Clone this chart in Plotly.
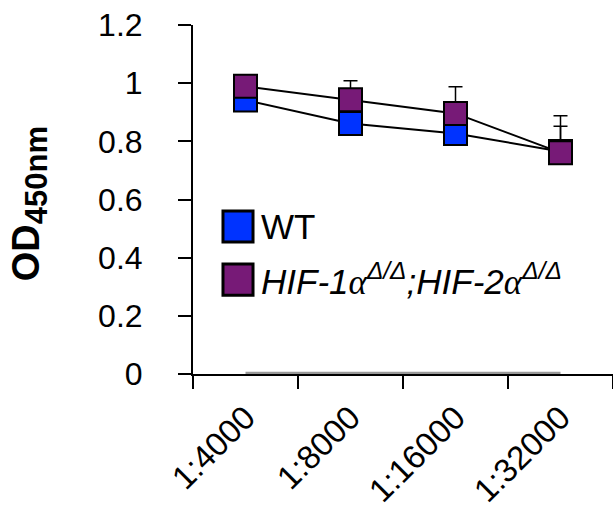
import plotly.graph_objects as go

categories = ["1:4000", "1:8000", "1:16000", "1:32000"]
wt_values = [0.942, 0.861, 0.827, 0.765]
wt_errors = [0.03, 0.04, 0.04, 0.087]
hif_values = [0.989, 0.943, 0.896, 0.761]
hif_errors = [0.03, 0.065, 0.092, 0.127]
blank_values = [0, 0, 0, 0]
y_ticks = [0, 0.2, 0.4, 0.6, 0.8, 1.0, 1.2]

BLUE = "#0033ff"
PURPLE = "#771a77"
SANS = "Liberation Sans, Arial, sans-serif"
ALPHA = '<span style="font-family:Liberation Serif">α</span>'

fig = go.Figure()
fig.add_trace(go.Scatter(
    x=categories, y=blank_values, mode="lines",
    line=dict(color="#999999", width=4.5), cliponaxis=False, showlegend=False))
fig.add_trace(go.Scatter(
    x=categories, y=wt_values, mode="lines+markers", name="WT",
    line=dict(color="black", width=2),
    marker=dict(symbol="square", size=23, color=BLUE, line=dict(color="black", width=2)),
    error_y=dict(type="data", array=wt_errors, arrayminus=[0] * 4, symmetric=False,
                 color="black", thickness=1.5, width=7),
    cliponaxis=False, showlegend=False))
fig.add_trace(go.Scatter(
    x=categories, y=hif_values, mode="lines+markers", name="HIF",
    line=dict(color="black", width=2),
    marker=dict(symbol="square", size=23, color=PURPLE, line=dict(color="black", width=2)),
    error_y=dict(type="data", array=hif_errors, arrayminus=[0] * 4, symmetric=False,
                 color="black", thickness=1.5, width=7),
    cliponaxis=False, showlegend=False))

# legend keys (manual)
legend_items = [
    (BLUE, "WT", 0.378, 0.467),
    (PURPLE, f"<i>HIF-1{ALPHA}<sup>Δ/Δ</sup>;HIF-2{ALPHA}<sup>Δ/Δ</sup></i>", 0.226, 0.315),
]
for color, label, y0, y1 in legend_items:
    fig.add_shape(type="rect", xref="paper", yref="paper",
                  x0=0.0714, x1=0.1429, y0=y0, y1=y1,
                  fillcolor=color, line=dict(color="black", width=3))
    fig.add_annotation(xref="paper", yref="paper", x=0.157, y=(y0 + y1) / 2,
                       text=label, showarrow=False, xanchor="left", yanchor="middle",
                       font=dict(family=SANS, size=35, color="black"))

fig.add_annotation(xref="paper", yref="paper", x=-0.39, y=0.487,
                   text='<b>OD<sub><span style="font-size:31px">450nm</span></sub></b>',
                   textangle=-90, showarrow=False,
                   xanchor="center", yanchor="middle",
                   font=dict(family=SANS, size=38, color="black"))

fig.update_layout(
    width=613, height=514, template="none",
    paper_bgcolor="white", plot_bgcolor="white",
    margin=dict(l=193, r=0, t=25, b=140, autoexpand=False),
    showlegend=False,
    xaxis=dict(type="category", range=[-0.5, 3.5], tickson="boundaries",
               showline=True, linecolor="black", linewidth=2,
               ticks="outside", ticklen=13, tickwidth=2, tickcolor="black",
               tickangle=-45, tickfont=dict(family=SANS, size=33, color="black"),
               showgrid=False, zeroline=False, automargin=False, layer="below traces",
               ticklabelstandoff=9),
    yaxis=dict(range=[0, 1.2], tickvals=y_ticks,
               showline=True, linecolor="black", linewidth=2,
               ticks="outside", ticklen=13, tickwidth=2, tickcolor="black",
               tickfont=dict(family=SANS, size=32, color="black"),
               showgrid=False, zeroline=False, automargin=False,
               ticklabelstandoff=29),
)
fig.write_html("out.html")
